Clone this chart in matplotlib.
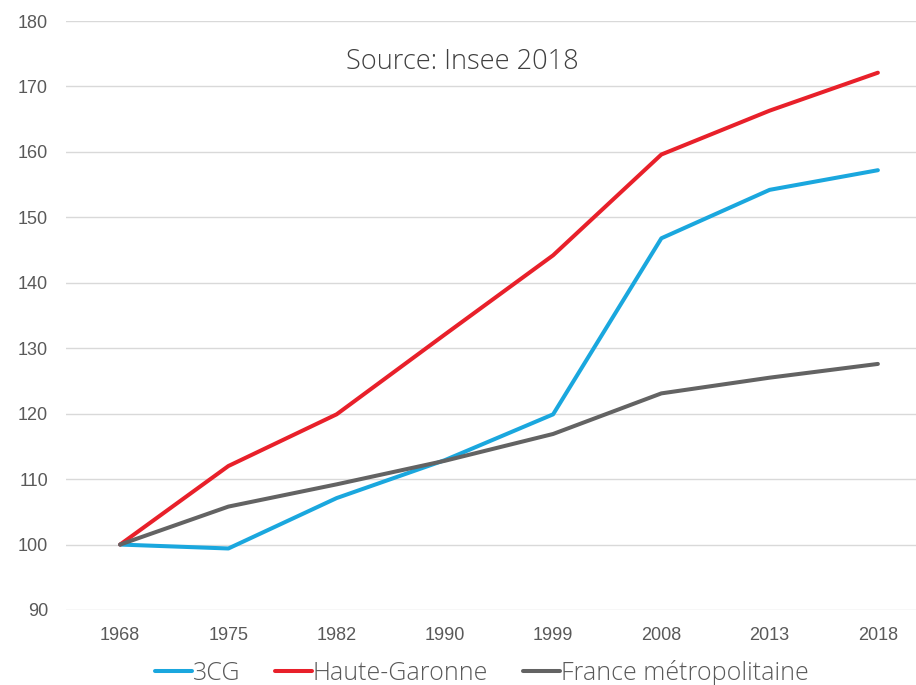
import matplotlib.pyplot as plt

years = ['1968', '1975', '1982', '1990', '1999', '2008', '2013', '2018']
cg3 = [100, 99.4, 107.1, 112.9, 119.9, 146.8, 154.2, 157.2]
haute_garonne = [100, 112.0, 119.9, 132.1, 144.2, 159.6, 166.3, 172.1]
france_metro = [100, 105.8, 109.2, 112.8, 116.9, 123.1, 125.5, 127.6]

series_names = ['3CG', 'Haute-Garonne', 'France métropolitaine']
series_colors = ['#1AA7DE', '#E8202A', '#636363']

fig = plt.figure(figsize=(9.16, 6.85), dpi=100)
# plot area runs a bit past the right edge, like the cropped original
ax = fig.add_axes([66 / 916, 1 - 610 / 685, (932 - 66) / 916, (610 - 21) / 685])

x = list(range(len(years)))
for vals, name, col in zip([cg3, haute_garonne, france_metro], series_names, series_colors):
    ax.plot(x, vals, color=col, lw=2.9, label=name, solid_capstyle='round', solid_joinstyle='round')

ax.set_xlim(-0.5, len(years) - 0.5)
ax.set_ylim(90, 180)
ax.set_yticks(range(90, 181, 10))
ax.set_xticks(x)
ax.set_xticklabels(years)
ax.grid(axis='y', color='#D9D9D9', lw=1)
ax.set_axisbelow(True)
for s in ax.spines.values():
    s.set_visible(False)
ax.tick_params(length=0, labelsize=13, colors='#595959', pad=12)
ax.tick_params(axis='y', pad=13)
for lab in ax.get_xticklabels() + ax.get_yticklabels():
    lab.set_family('Liberation Sans')

ax.text(462 / 916, 1 - 62 / 685, 'Source: Insee 2018', transform=fig.transFigure,
        ha='center', va='center', fontsize=19.5, family='Open Sans', fontweight='light',
        color='#404040')

leg = fig.legend(loc='center', bbox_to_anchor=(482 / 916, 1 - 673 / 685), ncol=3, frameon=False,
                 prop={'family': 'Open Sans', 'size': 18, 'weight': 'light'}, handlelength=1.45,
                 handletextpad=0.05, columnspacing=1.4, labelcolor='#595959')

fig.savefig('out.png', dpi=100)
